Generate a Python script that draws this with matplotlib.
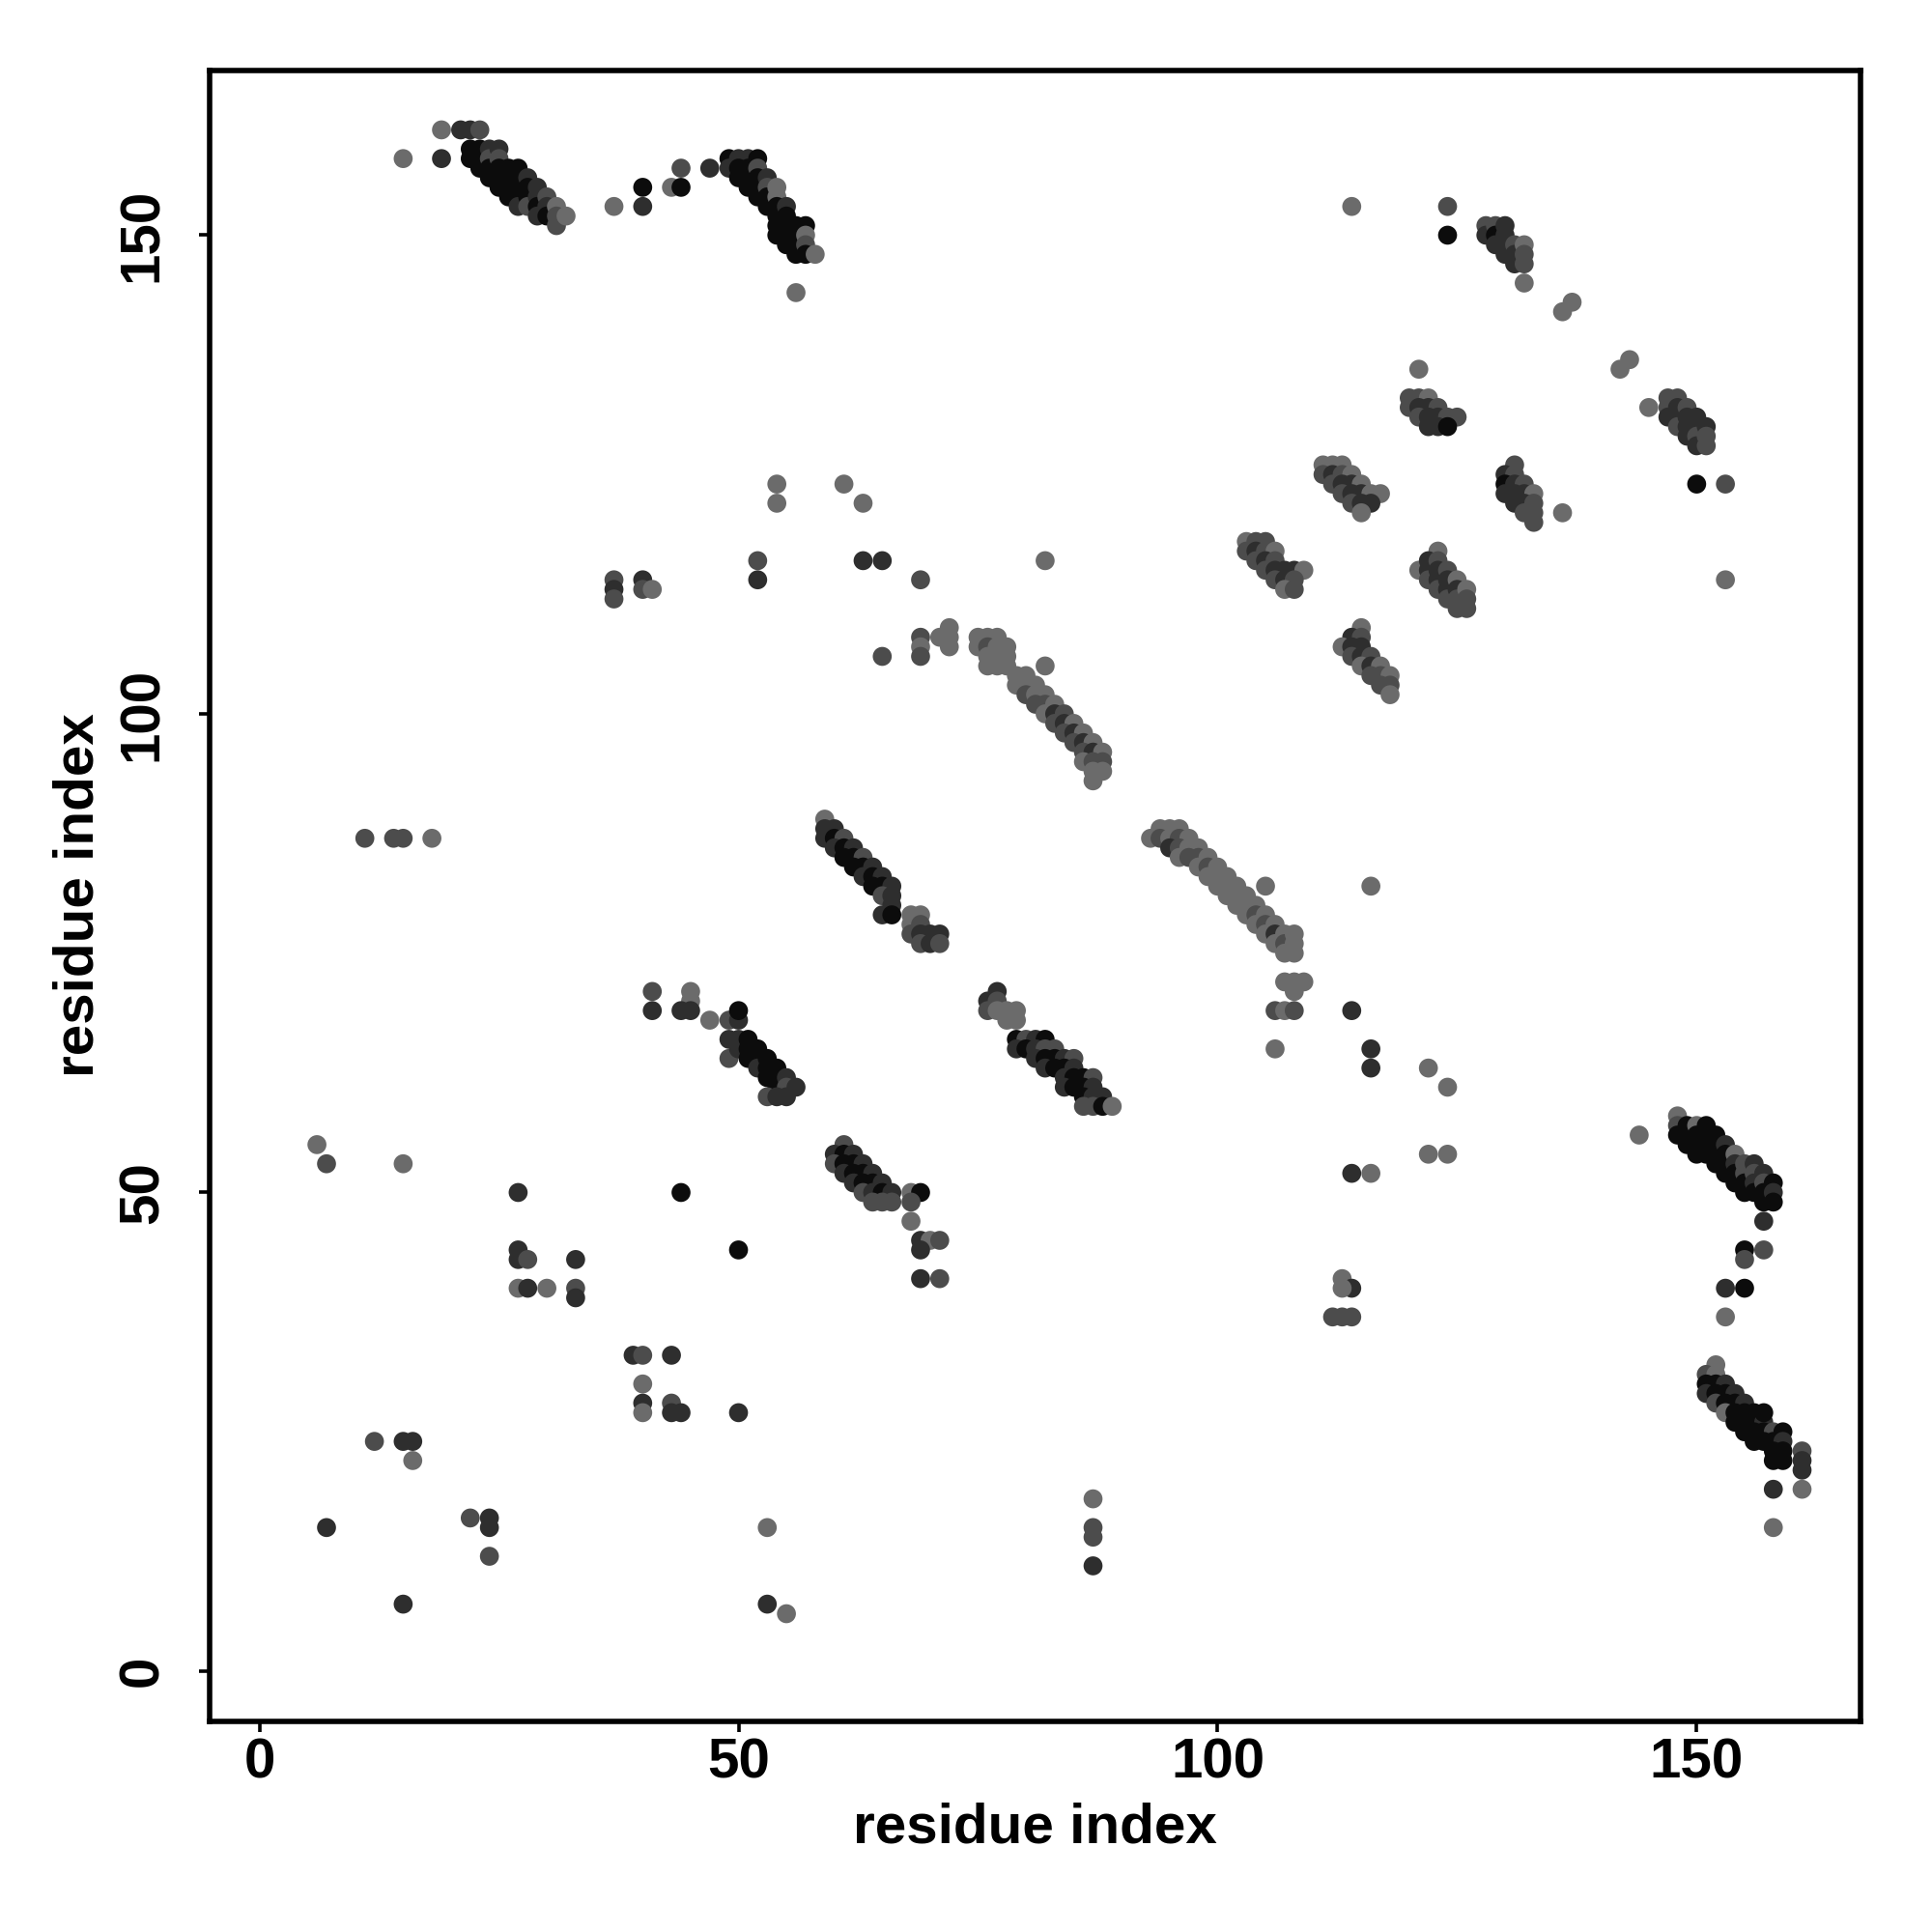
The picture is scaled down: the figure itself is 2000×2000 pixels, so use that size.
import matplotlib
matplotlib.use("Agg")
import matplotlib.pyplot as plt

# ---- data: (residue i, residue j, shade code) ----
band_a = [(15,158,'L'),(19,161,'L'),(19,158,'D'),(21,161,'D'),(22,161,'D'),(23,161,'M'),
          (22,159,'K'),(22,158,'K'),(23,159,'K'),(23,158,'K'),(23,157,'K'),
          (24,159,'D'),(24,158,'M'),(24,157,'K'),(24,156,'K'),
          (25,159,'D'),(25,158,'M'),(25,157,'K'),(25,156,'K'),(25,155,'K'),
          (26,157,'K'),(26,156,'K'),(26,155,'K'),(26,154,'K'),
          (27,157,'K'),(27,156,'K'),(27,155,'K'),(27,154,'K'),(27,153,'D'),
          (28,156,'D'),(28,155,'K'),(28,154,'K'),(28,153,'M'),
          (29,155,'D'),(29,154,'D'),(29,153,'K'),(29,152,'D'),
          (30,154,'M'),(30,153,'D'),(30,152,'K'),
          (31,153,'L'),(31,152,'M'),(31,151,'M'),(32,152,'L')]
misc_a = [(37,153,'L'),(40,155,'K'),(40,153,'D'),(43,155,'L'),(44,155,'K'),(44,157,'M'),(47,157,'D')]
band_b = [(49,158,'K'),(50,158,'D'),(51,158,'D'),(52,158,'K'),(49,157,'D'),
          (50,157,'K'),(50,156,'K'),(51,157,'K'),(51,156,'K'),(51,155,'K'),
          (52,157,'M'),(52,156,'K'),(52,155,'K'),(52,154,'K'),
          (53,156,'D'),(53,155,'M'),(53,154,'K'),(53,153,'K'),
          (54,155,'L'),(54,154,'L'),(54,153,'K'),(54,152,'K'),(54,151,'K'),(54,150,'K'),
          (55,153,'D'),(55,152,'K'),(55,151,'K'),(55,150,'K'),(55,149,'K'),
          (56,151,'K'),(56,150,'K'),(56,149,'K'),(56,148,'K'),
          (57,151,'K'),(57,150,'L'),(57,149,'M'),(57,148,'K'),(58,148,'L'),(56,144,'L')]
top_right = [(114,153,'L'),(124,153,'M'),(124,150,'K'),
             (128,151,'M'),(128,150,'D'),(129,151,'M'),(129,150,'K'),(129,149,'D'),
             (130,151,'D'),(130,150,'D'),(130,149,'D'),(130,148,'D'),
             (131,149,'M'),(131,148,'D'),(131,147,'D'),
             (132,149,'L'),(132,148,'M'),(132,147,'M'),(132,145,'L'),
             (136,142,'L'),(137,143,'L'),(142,136,'L'),(143,137,'L'),(145,132,'L')]
band_c = [(147,133,'M'),(147,132,'M'),(147,131,'D'),(148,133,'M'),(148,132,'D'),(148,131,'D'),
          (148,130,'M'),(149,132,'M'),(149,131,'D'),(149,130,'D'),(149,129,'D'),
          (150,131,'D'),(150,130,'D'),(150,129,'M'),(150,128,'D'),
          (151,130,'D'),(151,129,'M'),(151,128,'M'),
          (150,124,'K'),(153,124,'M'),(153,114,'L')]
band_c2 = [(121,136,'L'),(120,133,'M'),(121,133,'M'),(122,133,'L'),(120,132,'M'),(121,132,'D'),
           (122,132,'D'),(123,132,'M'),(121,131,'M'),(122,131,'D'),(123,131,'D'),(124,131,'M'),
           (125,131,'M'),(122,130,'D'),(123,130,'D'),(124,130,'K')]
band_c3 = [(111,126,'L'),(112,126,'L'),(113,126,'L'),(111,125,'M'),(112,125,'D'),(113,125,'M'),
           (114,125,'L'),(112,124,'M'),(113,124,'D'),(114,124,'D'),(115,124,'L'),
           (113,123,'M'),(114,123,'D'),(115,123,'D'),(116,123,'L'),(117,123,'L'),
           (114,122,'M'),(115,122,'D'),(116,122,'D'),(115,121,'L')]
band_c4 = [(131,126,'M'),(130,125,'D'),(131,125,'M'),(130,124,'K'),(131,124,'D'),(132,124,'M'),
           (130,123,'D'),(131,123,'D'),(132,123,'D'),(133,123,'L'),(131,122,'D'),(132,122,'D'),
           (133,122,'M'),(132,121,'M'),(133,121,'M'),(133,120,'M'),(136,121,'L')]
band_c5 = [(123,117,'L'),(121,115,'L'),(122,116,'D'),(122,115,'D'),(122,114,'M'),(123,116,'M'),
           (123,115,'D'),(123,114,'D'),(123,113,'M'),(124,115,'M'),(124,114,'D'),(124,113,'D'),
           (124,112,'M'),(125,114,'L'),(125,113,'D'),(125,112,'M'),(125,111,'M'),
           (126,113,'L'),(126,112,'M'),(126,111,'M')]
band_c6 = [(115,109,'L'),(114,108,'D'),(115,108,'M'),(113,107,'L'),(114,107,'D'),(115,107,'D'),
           (114,106,'M'),(115,106,'D'),(116,106,'M'),(115,105,'L'),(116,105,'D'),(117,105,'L'),
           (116,104,'M'),(117,104,'M'),(118,104,'L'),(117,103,'M'),(118,103,'M'),(118,102,'L'),
           (116,82,'L')]
band_c7 = [(103,118,'L'),(104,118,'M'),(105,118,'M'),(103,117,'M'),(104,117,'D'),(105,117,'M'),
           (106,117,'L'),(104,116,'M'),(105,116,'D'),(106,116,'M'),(105,115,'M'),(106,115,'D'),
           (107,115,'D'),(108,115,'D'),(109,115,'L'),(106,114,'M'),(107,114,'D'),(108,114,'M'),
           (107,113,'L'),(108,113,'M')]
misc_mid = [(54,124,'L'),(54,122,'L'),(61,124,'L'),(63,122,'L'),(52,116,'M'),(52,114,'D'),
            (63,116,'D'),(65,116,'D'),(69,114,'M'),(82,116,'L'),(65,106,'M'),(69,108,'M'),
            (69,107,'L'),(69,106,'M'),(71,108,'L'),(72,109,'L'),(72,108,'L'),(72,107,'L'),
            (82,105,'L'),(37,114,'M'),(37,113,'D'),(37,112,'M'),(40,114,'D'),(40,113,'M'),
            (41,113,'L'),(11,87,'M'),(14,87,'M'),(15,87,'M'),(18,87,'L')]
band_d = [(75,108,'L'),(76,108,'L'),(77,108,'L'),(75,107,'L'),(76,107,'M'),(77,107,'L'),
          (78,107,'L'),(76,106,'L'),(77,106,'L'),(78,106,'L'),(76,105,'L'),(77,105,'L'),
          (78,105,'L'),(79,104,'L'),(80,104,'L'),(79,103,'L'),(80,103,'L'),(81,103,'L'),
          (80,102,'M'),(81,102,'L'),(82,102,'L'),(81,101,'M'),(82,101,'M'),(83,101,'L'),
          (82,100,'L'),(83,100,'D'),(84,100,'M'),(83,99,'M'),(84,99,'D'),(85,99,'L'),
          (84,98,'M'),(85,98,'D'),(86,98,'L'),(85,97,'M'),(86,97,'D'),(87,97,'L'),
          (86,96,'M'),(87,96,'D'),(88,96,'L'),(86,95,'L'),(87,95,'M'),(88,95,'M'),
          (87,94,'L'),(88,94,'L'),(87,93,'L')]
band_e = [(59,89,'L'),(59,88,'D'),(60,88,'D'),(59,87,'D'),(60,87,'K'),(61,87,'M'),
          (60,86,'D'),(61,86,'K'),(62,86,'D'),(61,85,'K'),(62,85,'K'),(63,85,'M'),
          (62,84,'K'),(63,84,'K'),(64,84,'D'),(63,83,'D'),(64,83,'K'),(65,83,'D'),
          (64,82,'K'),(65,82,'K'),(66,82,'D'),(65,81,'M'),(66,81,'D'),(66,80,'D'),
          (65,79,'D'),(66,79,'K'),
          (68,79,'L'),(69,79,'L'),(68,78,'L'),(69,78,'M'),(68,77,'M'),(69,77,'D'),
          (70,77,'D'),(71,77,'D'),(69,76,'M'),(70,76,'D'),(71,76,'M')]
band_f = [(77,71,'D'),(76,70,'D'),(77,70,'M'),(76,69,'M'),(77,69,'L'),(78,69,'L'),(79,69,'L'),
          (78,68,'L'),(79,68,'L'),
          (79,66,'K'),(80,66,'M'),(81,66,'D'),(82,66,'K'),(79,65,'D'),(80,65,'K'),(81,65,'D'),
          (82,65,'M'),(83,65,'M'),(81,64,'D'),(82,64,'K'),(83,64,'K'),(84,64,'D'),(85,64,'M'),
          (82,63,'D'),(83,63,'K'),(84,63,'K'),(85,63,'D'),(84,62,'D'),(85,62,'K'),(86,62,'K'),
          (87,62,'M'),(84,61,'D'),(85,61,'K'),(86,61,'K'),(87,61,'D'),(86,60,'K'),(87,60,'D'),
          (88,60,'D'),(86,59,'M'),(87,59,'M'),(88,59,'K'),(89,59,'L')]
band_g = [(41,71,'M'),(41,69,'D'),(45,71,'L'),(45,70,'L'),(44,69,'D'),(45,69,'D'),(47,68,'L'),
          (49,68,'M'),(50,68,'D'),(50,69,'K'),(49,66,'D'),(50,66,'D'),(49,64,'M'),(50,65,'D'),
          (51,66,'K'),(51,65,'K'),(51,64,'K'),(52,65,'K'),(52,64,'K'),(52,63,'D'),(53,64,'K'),
          (53,63,'K'),(53,62,'K'),(54,63,'K'),(54,62,'K'),(54,61,'K'),(55,62,'D'),(55,61,'M'),
          (55,60,'D'),(53,60,'M'),(54,60,'D'),(56,61,'D')]
band_h = [(61,55,'M'),(60,54,'D'),(61,54,'K'),(62,54,'D'),(60,53,'M'),(61,53,'K'),(62,53,'K'),
          (63,53,'D'),(61,52,'D'),(62,52,'K'),(63,52,'K'),(64,52,'D'),(62,51,'D'),(63,51,'K'),
          (64,51,'K'),(65,51,'D'),(63,50,'M'),(64,50,'D'),(65,50,'K'),(66,50,'D'),(64,49,'M'),
          (65,49,'M'),(66,49,'M'),(68,50,'L'),(69,50,'K'),(68,49,'M'),(68,47,'L'),
          (69,45,'D'),(70,45,'L'),(71,45,'M'),(69,44,'D'),(69,41,'D'),(71,41,'M')]
band_i = [(93,87,'L'),(94,88,'L'),(95,88,'L'),(96,88,'L'),(94,87,'M'),(95,87,'L'),(96,87,'M'),
          (97,87,'L'),(95,86,'D'),(96,86,'M'),(97,86,'L'),(98,86,'L'),(96,85,'L'),(97,85,'M'),
          (98,85,'M'),(99,85,'L'),(98,84,'L'),(99,84,'M'),(100,84,'L'),(99,83,'L'),(100,83,'L'),
          (101,83,'L'),(100,82,'L'),(101,82,'L'),(102,82,'L'),(101,81,'L'),(102,81,'L'),
          (103,81,'L'),(102,80,'L'),(103,80,'L'),(104,80,'L'),(103,79,'L'),(104,79,'M'),
          (105,79,'L'),(104,78,'L'),(105,78,'M'),(106,78,'L'),(105,77,'L'),(106,77,'D'),
          (107,77,'L'),(106,76,'L'),(107,76,'M'),(108,76,'L'),(107,75,'L'),(108,75,'L'),
          (108,77,'L'),(105,82,'L'),
          (107,72,'L'),(108,72,'L'),(109,72,'L'),(108,71,'L'),(106,69,'M'),(107,69,'L'),
          (108,69,'M'),(106,65,'L')]
band_j = [(144,56,'L'),(148,58,'L'),(148,57,'M'),(148,56,'K'),(149,57,'K'),(149,56,'K'),
          (149,55,'K'),(150,57,'L'),(150,56,'K'),(150,55,'K'),(150,54,'K'),(151,57,'K'),
          (151,56,'K'),(151,55,'K'),(151,54,'K'),(152,56,'K'),(152,55,'K'),(152,54,'K'),
          (152,53,'K'),(153,55,'D'),(153,54,'K'),(153,53,'K'),(153,52,'K'),(154,54,'L'),
          (154,53,'D'),(154,52,'K'),(154,51,'K'),(155,53,'M'),(155,52,'M'),(155,51,'K'),
          (155,50,'K'),(156,53,'D'),(156,52,'M'),(156,51,'D'),(156,50,'K'),(157,52,'D'),
          (157,51,'M'),(157,50,'K'),(157,49,'K'),(158,51,'K'),(158,50,'D'),(158,49,'K'),
          (157,47,'D'),(155,44,'K'),(157,44,'M'),(155,43,'M'),(153,40,'D'),(155,40,'K'),
          (153,37,'L')]
band_k = [(152,32,'L'),(151,31,'M'),(152,31,'L'),(151,30,'K'),(152,30,'K'),(153,30,'D'),
          (151,29,'D'),(152,29,'K'),(153,29,'K'),(154,29,'D'),(152,28,'M'),(153,28,'K'),
          (154,28,'K'),(155,28,'D'),(153,27,'L'),(154,27,'K'),(155,27,'K'),(156,27,'K'),
          (154,26,'K'),(155,26,'K'),(156,26,'K'),(157,26,'D'),(157,27,'K'),(155,25,'K'),
          (156,25,'K'),(157,25,'K'),(158,25,'M'),(156,24,'K'),(157,24,'K'),(158,24,'K'),
          (159,25,'K'),(159,24,'D'),(158,23,'K'),(159,23,'K'),(158,22,'K'),(159,22,'K'),
          (161,23,'M'),(161,22,'D'),(161,21,'D'),(158,19,'D'),(161,19,'L'),(158,15,'L')]
misc_low_right = [(113,41,'L'),(114,40,'D'),(113,40,'L'),(112,37,'M'),(113,37,'M'),(114,37,'M'),
                  (114,69,'D'),(116,65,'D'),(116,63,'D'),(122,63,'L'),(124,61,'L'),
                  (122,54,'L'),(124,54,'L'),(114,52,'D'),(116,52,'L')]
misc_low_left = [(6,55,'L'),(7,53,'M'),(15,53,'L'),(27,50,'D'),(44,50,'K'),(50,44,'K'),
                 (27,44,'D'),(27,43,'D'),(28,43,'M'),(33,43,'D'),(27,40,'L'),(28,40,'D'),
                 (30,40,'L'),(33,40,'M'),(33,39,'D'),(39,33,'D'),(40,33,'M'),(43,33,'D'),
                 (40,30,'L'),(40,28,'D'),(40,27,'L'),(43,28,'M'),(43,27,'D'),(44,27,'D'),
                 (50,27,'D'),(12,24,'M'),(15,24,'D'),(16,24,'D'),(16,22,'L'),(7,15,'D'),
                 (22,16,'M'),(24,16,'D'),(24,15,'D'),(24,12,'M'),(15,7,'D'),(53,15,'L'),
                 (53,7,'D'),(55,6,'L'),(87,18,'L'),(87,15,'M'),(87,14,'M'),(87,11,'D')]

shade_colors = {'L': '#6b6b6b', 'M': '#4c4c4c', 'D': '#2e2e2e', 'K': '#0c0c0c'}
tick_values = [0, 50, 100, 150]
axis_label = "residue index"

clusters = [band_a, misc_a, band_b, top_right, band_c, band_c2, band_c3, band_c4, band_c5,
            band_c6, band_c7, misc_mid, band_d, band_e, band_f, band_g, band_h, band_i,
            band_j, band_k, misc_low_right, misc_low_left]
xs, ys, cs = [], [], []
for cl in clusters:
    for (i, j, g) in cl:
        xs.append(i); ys.append(j); cs.append(shade_colors[g])

plt.rcParams['font.family'] = ['Liberation Sans', 'DejaVu Sans']
fig = plt.figure(figsize=(10, 10), dpi=200)
ax = fig.add_axes([0.1085, 0.109, 0.8545, 0.8545])
ax.scatter(xs, ys, s=50, c=cs, linewidths=0)
ax.set_xlim(-5.2, 167.1)
ax.set_ylim(-5.25, 167.2)
ax.set_xticks(tick_values)
ax.set_yticks(tick_values)
for sp in ax.spines.values():
    sp.set_linewidth(2.0)
ax.tick_params(axis='both', length=4, width=1.3, labelsize=21)
ax.tick_params(axis='x', pad=2)
ax.tick_params(axis='y', pad=11)
for lab in ax.get_xticklabels():
    lab.set_fontweight('bold')
for lab in ax.get_yticklabels():
    lab.set_fontweight('bold')
    lab.set_rotation(90)
    lab.set_va('center')
fig.text(0.5355, 1 - 1892 / 2000, axis_label, ha='center', va='center',
         fontsize=21, fontweight='bold')
fig.text(82 / 2000, 1 - 927 / 2000, axis_label, ha='center', va='center',
         fontsize=21, fontweight='bold', rotation=90)
fig.savefig("out.png", dpi=200, facecolor='white')
